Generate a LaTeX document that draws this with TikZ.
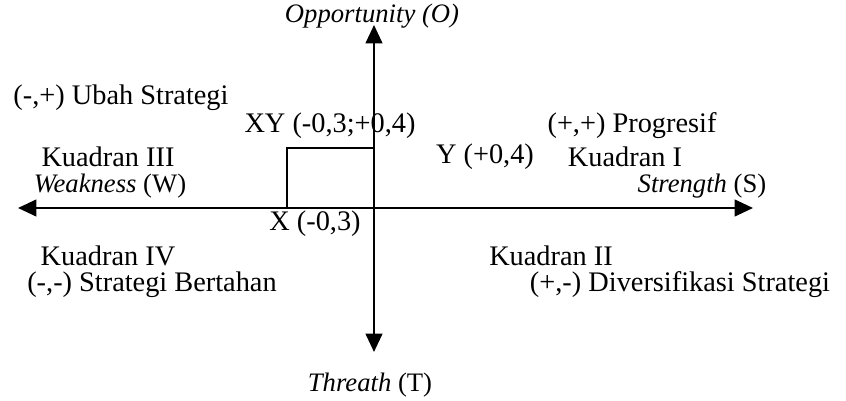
\documentclass[tikz,border=0pt]{standalone}
\usepackage{fontspec}
\setmainfont{Liberation Serif}
\usetikzlibrary{arrows.meta, positioning}

\begin{document}
\begin{tikzpicture}[
    x=0.6pt, y=-0.6pt,
    label/.style={
        inner sep=0pt,
        font=\fontsize{17}{20}\selectfont
    },
    axislabel/.style={
        inner sep=0pt,
        font=\fontsize{16}{19}\selectfont
    },
    axis/.style={
        -{Triangle[length=11pt, width=10pt]},
        line width=1.3pt,
        draw=black
    },
    quad/.style={
        line width=1pt,
        draw=black
    }
]
\useasboundingbox (0,0) rectangle (846,401);

% Points
\coordinate (origin) at (374,208);
\coordinate (west) at (18,208);
\coordinate (east) at (753,208);
\coordinate (north) at (374,25);
\coordinate (south) at (374,352);
\coordinate (xpt) at (287,208);
\coordinate (xypt) at (287,148);
\coordinate (ypt) at (374,148);

% Nodes
\node (opp) [axislabel] at (372,16) {\textit{Opportunity (O)}};
\node (ubah) [label] at (121,98) {(-,+) Ubah Strategi};
\node (xy) [label] at (330,126) {XY (-0,3;+0,4)};
\node (prog) [label] at (632,126) {(+,+) Progresif};
\node (k3) [label] at (108,157) {Kuadran III};
\node (yval) [label] at (485,157) {Y (+0,4)};
\node (k1) [label] at (625,157) {Kuadran I};
\node (weak) [axislabel] at (110,186) {\textit{Weakness} (W)};
\node (str) [axislabel] at (702,186) {\textit{Strength} (S)};
\node (xval) [label] at (315,224) {X (-0,3)};
\node (k4) [label] at (108,256) {Kuadran IV};
\node (k2) [label] at (551,256) {Kuadran II};
\node (bertahan) [label] at (152,285) {(-,-) Strategi Bertahan};
\node (div) [label] at (680,285) {(+,-) Diversifikasi Strategi};
\node (thr) [axislabel] at (370,385) {\textit{Threath} (T)};

% Paths
\draw [axis] (origin) -- (west);
\draw [axis] (origin) -- (east);
\draw [axis] (origin) -- (north);
\draw [axis] (origin) -- (south);
\draw [quad] (xpt) -- (xypt) -- (ypt);

\end{tikzpicture}
\end{document}
